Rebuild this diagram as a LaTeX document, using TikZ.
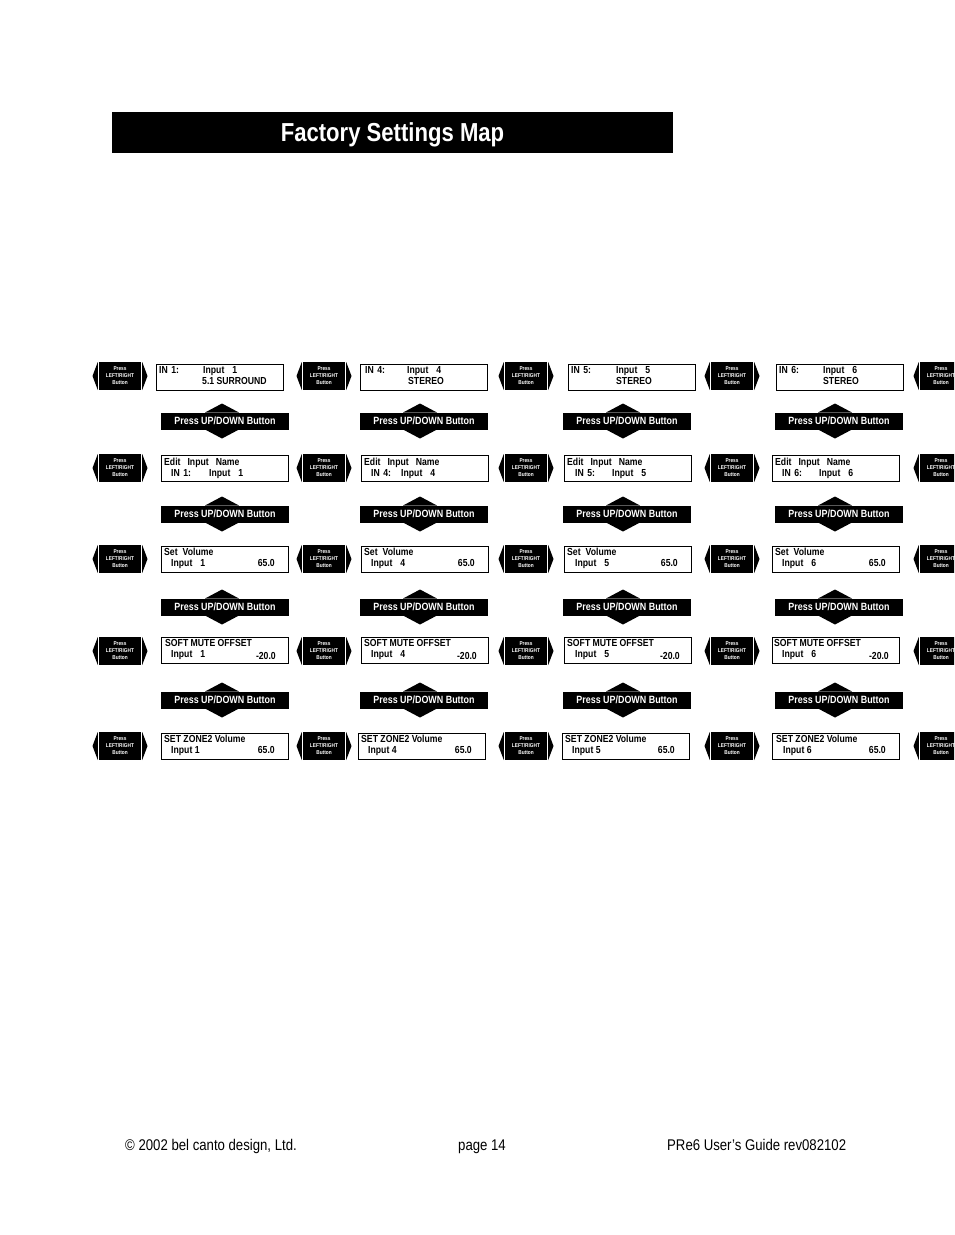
\documentclass[tikz,border=0pt]{standalone}
\usepackage{fontspec}
\setmainfont{Liberation Sans}[FakeStretch=0.85]
\newcommand\LRbtn[3]{%
  \fill (#2-21,#3-14) rectangle (#2+21,#3+14);
  \fill (#2-22.2,#3-14) -- (#2-27.5,#3) -- (#2-22.2,#3+14) -- cycle;
  \fill (#2+22.2,#3-14) -- (#2+27.5,#3) -- (#2+22.2,#3+14) -- cycle;
  \node[lrtxt] (#1) at (#2,#3) {Press\\LEFT/RIGHT\\Button};
}
\newcommand\UDbtn[5]{%
  \fill (#2,#5-8.5) rectangle (#3,#5+8.5);
  \fill (#4-17,#5-8.5) -- (#4,#5-17.5) -- (#4+17,#5-8.5) -- cycle;
  \fill (#4-17,#5+8.5) -- (#4,#5+17.5) -- (#4+17,#5+8.5) -- cycle;
  \node[udtxt] (#1) at ({(#2+#3)/2},#5) {Press UP/DOWN Button};
}
\begin{document}
\begin{tikzpicture}[x=1pt,y=-1pt,
  dbox/.style={draw=black, line width=1pt, minimum width=127pt, minimum height=26pt, inner sep=0pt, anchor=north west},
  t/.style={font=\fontsize{10.2}{12}\selectfont\bfseries, inner sep=0pt, anchor=base west, yshift=-3.7pt},
  tr/.style={t, anchor=base east},
  lrtxt/.style={font=\fontsize{5.6}{7}\selectfont\bfseries, text=white, align=center, inner sep=0pt},
  udtxt/.style={font=\fontsize{10.5}{12}\selectfont\bfseries, text=white, inner sep=0pt, anchor=base, yshift=-3.8pt},
  ttl/.style={font=\fontsize{26}{30}\selectfont\bfseries, text=white, inner sep=0pt, anchor=base, yshift=-9.3pt},
  foot/.style={font=\fontsize{15.5}{18}\selectfont, inner sep=0pt, anchor=base west, yshift=-5.6pt}]
\useasboundingbox (0,0) rectangle (954,1235);
\clip (0,0) rectangle (954,1235);
\fill[white] (0,0) rectangle (954,1235);
% title
\fill (112,112) rectangle (673,153);
\node[ttl] (title) at (392.5,132) {Factory Settings Map};
% left/right buttons
\foreach \r/\y in {1/376,2/468,3/559,4/651,5/746}
  \foreach \c/\x in {1/120,2/324,3/526,4/732,5/941}
    {\LRbtn{lr\r-\c}{\x}{\y}}
% up/down buttons
\foreach \r/\y in {1/421,2/514,3/607,4/700}
  \foreach \c/\xa/\xb/\xt in {1/161/289/222,2/360/488/420,3/563/691/623,4/775/903/835}
    {\UDbtn{ud\r-\c}{\xa}{\xb}{\xt}{\y}}
% row 1
\foreach \c/\L/\n/\a/\b/\s/\sx in {1/156/1/159/203/5.1 SURROUND/202,2/360/4/365/407/STEREO/408,3/568/5/571/616/STEREO/616,4/776/6/779/823/STEREO/823} {
  \node[dbox] (b1-\c) at (\L,364) {};
  \node[t] (b1-\c-a) at (\a,370) {IN\hspace{3.5pt}\n:};
  \node[t] (b1-\c-b) at (\b,370) {Input\hspace{8pt}\n};
  \node[t] (b1-\c-c) at (\sx,381) {\s};
}
% row 2
\foreach \c/\L/\n/\a/\b/\d in {1/161/1/164/171/209,2/361/4/364/371/401,3/564/5/567/575/612,4/772/6/775/782/819} {
  \node[dbox] (b2-\c) at (\L,455) {};
  \node[t] (b2-\c-a) at (\a,462) {Edit\hspace{7pt}Input\hspace{7pt}Name};
  \node[t] (b2-\c-b) at (\b,473) {IN\hspace{3.5pt}\n:};
  \node[t] (b2-\c-c) at (\d,473) {Input\hspace{8pt}\n};
}
% row 3
\foreach \c/\L/\n/\a/\b/\d in {1/161/1/164/171/275,2/361/4/364/371/475,3/564/5/567/575/678,4/772/6/775/782/886} {
  \node[dbox] (b3-\c) at (\L,546) {};
  \node[t] (b3-\c-a) at (\a,552) {Set\hspace{5pt}Volume};
  \node[t] (b3-\c-b) at (\b,563) {Input\hspace{8pt}\n};
  \node[tr] (b3-\c-c) at (\d,563) {65.0};
}
% row 4
\foreach \c/\L/\n/\a/\b/\d in {1/161/1/165/171/276,2/361/4/364/371/477,3/564/5/567/575/680,4/772/6/774/782/889} {
  \node[dbox] (b4-\c) at (\L,637) {};
  \node[t] (b4-\c-a) at (\a,643) {SOFT MUTE OFFSET};
  \node[t] (b4-\c-b) at (\b,654) {Input\hspace{8pt}\n};
  \node[tr] (b4-\c-c) at (\d,656) {-20.0};
}
% row 5
\foreach \c/\L/\n/\a/\b/\d in {1/161/1/164/171/275,2/358/4/361/368/472,3/562/5/565/572/675,4/772/6/776/783/886} {
  \node[dbox] (b5-\c) at (\L,733) {};
  \node[t] (b5-\c-a) at (\a,739) {SET ZONE2 Volume};
  \node[t] (b5-\c-b) at (\b,750) {Input \n};
  \node[tr] (b5-\c-c) at (\d,750) {65.0};
}
% footer
\node[foot] (copy) at (125,1145) {© 2002 bel canto design, Ltd.};
\node[foot] (page) at (458,1145) {page 14};
\node[foot] (guide) at (667,1145) {PRe6 User’s Guide rev082102};
\end{tikzpicture}
\end{document}
